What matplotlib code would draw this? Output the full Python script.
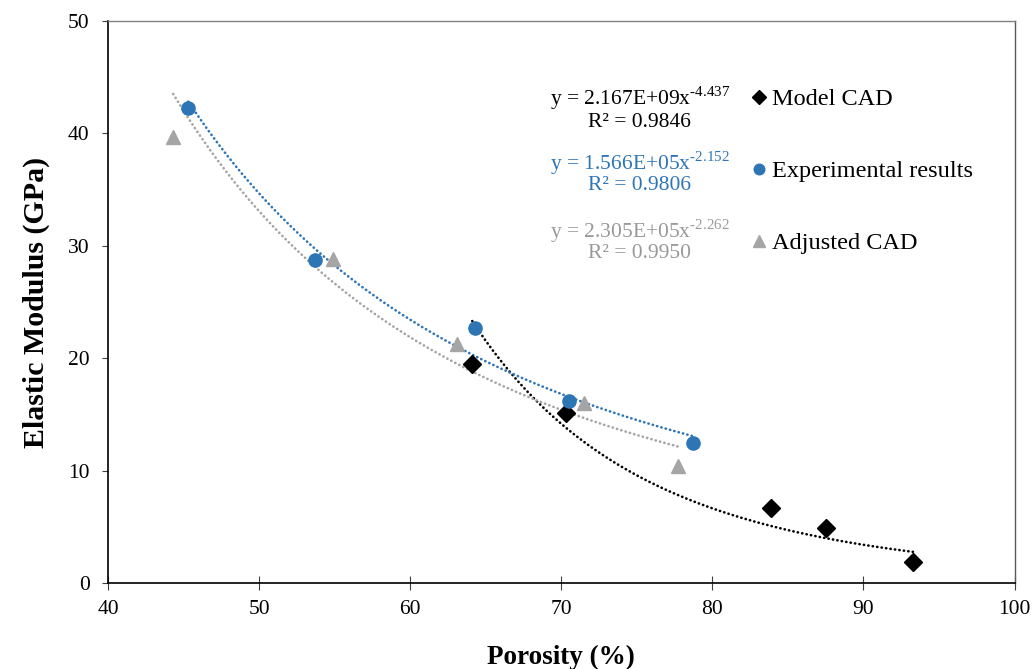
import numpy as np
import matplotlib
matplotlib.use('Agg')
import matplotlib.pyplot as plt

plt.rcParams['font.family'] = ['Liberation Serif', 'DejaVu Serif']
plt.rcParams['mathtext.fontset'] = 'custom'
plt.rcParams['mathtext.rm'] = 'Liberation Serif'

# -- data --
model_x = [64.1, 70.3, 83.9, 87.5, 93.3]
model_y = [19.5, 15.1, 6.7, 4.9, 1.9]

exp_x = [45.3, 53.7, 64.3, 70.5, 78.7]
exp_y = [42.2, 28.7, 22.7, 16.2, 12.5]

adj_x = [44.3, 54.9, 63.1, 71.5, 77.7]
adj_y = [39.7, 28.8, 21.3, 16.0, 10.4]

eq_model = ['y = 2.167E+09x$^{\\mathregular{\u20104.437}}$', 'R² = 0.9846']
eq_exp = ['y = 1.566E+05x$^{\\mathregular{\u20102.152}}$', 'R² = 0.9806']
eq_adj = ['y = 2.305E+05x$^{\\mathregular{\u20102.262}}$', 'R² = 0.9950']

c_model = 'black'
c_exp = '#2E75B6'
c_adj = '#A5A5A5'

fig = plt.figure(figsize=(10.33, 6.69), dpi=100)
ax = fig.add_axes([0.1048, 0.1281, 0.9821 - 0.1048, 0.969 - 0.1281])


def power_trend(x, y):
    # power law fit like the excel trendline
    b, a = np.polyfit(np.log(x), np.log(y), 1)
    xs = np.linspace(min(x), max(x), 200)
    return xs, np.exp(a) * xs ** b


dots = (0, (0.1, 1.6))
for xs_, ys_, col in [(model_x, model_y, c_model), (exp_x, exp_y, c_exp), (adj_x, adj_y, c_adj)]:
    tx, ty = power_trend(np.array(xs_), np.array(ys_))
    ax.plot(tx, ty, linestyle=dots, lw=1.9, color=col, dash_capstyle='round', zorder=2)

ax.plot(model_x, model_y, 'D', ms=9, color=c_model, ls='none', label='Model CAD', zorder=3)
ax.plot(exp_x, exp_y, 'o', ms=9.5, color=c_exp, ls='none', label='Experimental results', zorder=3)
ax.plot(adj_x, adj_y, '^', ms=10.5, color=c_adj, ls='none', label='Adjusted CAD', zorder=3)

# trendline labels
eq_x = 75.2
for lines, col, y1, y2 in [(eq_model, c_model, 43.1, 41.0),
                           (eq_exp, c_exp, 37.3, 35.4),
                           (eq_adj, '#999999', 31.3, 29.3)]:
    ax.text(eq_x, y1, lines[0], color=col, fontsize=15.5, ha='center', va='center')
    ax.text(eq_x, y2, lines[1], color=col, fontsize=15.5, ha='center', va='center')

leg = ax.legend(loc='upper left', bbox_to_anchor=(0.699, 0.897), frameon=False,
                fontsize=17.5, handlelength=0.6, handletextpad=0.25, labelspacing=2.05,
                borderaxespad=0, markerscale=0.8)

ax.set_xlim(40, 100)
ax.set_ylim(0, 50)
ax.set_xticks(np.arange(40, 101, 10))
ax.set_yticks(np.arange(0, 51, 10))

ax.spines['left'].set_color('black')
ax.spines['bottom'].set_color('black')
ax.spines['left'].set_linewidth(1.2)
ax.spines['bottom'].set_linewidth(1.2)
ax.spines['top'].set_color('#808080')
ax.spines['right'].set_color('#595959')
ax.spines['top'].set_linewidth(1.0)
ax.spines['right'].set_linewidth(1.0)

ax.tick_params(axis='x', direction='inout', length=10, width=0.8, color='#404040',
               labelsize=15.5, pad=7)
ax.tick_params(axis='y', direction='out', length=4.5, width=0.8, color='#404040',
               labelsize=15.5, pad=9)

ax.set_xlabel('Porosity (%)', fontsize=19.5, fontweight='bold', labelpad=19)
ax.set_ylabel('Elastic Modulus (GPa)', fontsize=21.5, fontweight='bold', labelpad=13)

fig.savefig('out.png', dpi=100)
